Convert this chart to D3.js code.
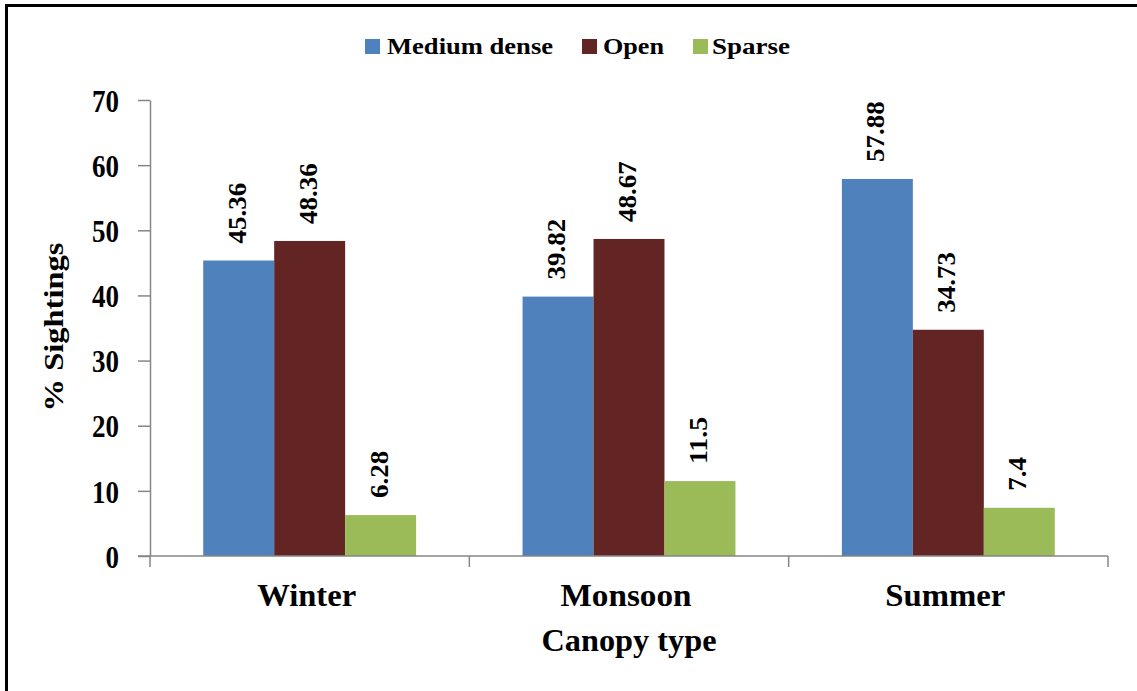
<!DOCTYPE html>
<html><head><meta charset="utf-8">
<script src="https://cdn.jsdelivr.net/npm/d3@7"></script>
<style>
html,body{margin:0;padding:0;background:#fff;}
svg{display:block;}
text{font-family:"Liberation Serif","Times New Roman",serif;font-weight:bold;fill:#000;}
</style></head>
<body>
<svg id="chart" width="1137" height="691"></svg>
<script>
const categories = ["Winter", "Monsoon", "Summer"];
const seriesNames = ["Medium dense", "Open", "Sparse"];
const mediumDense = [45.36, 39.82, 57.88];
const openCanopy = [48.36, 48.67, 34.73];
const sparse = [6.28, 11.5, 7.4];
const valueLabels = [["45.36", "39.82", "57.88"], ["48.36", "48.67", "34.73"], ["6.28", "11.5", "7.4"]];
const yTicks = [0, 10, 20, 30, 40, 50, 60, 70];
const colors = ["#4F81BD", "#632523", "#9BBB59"];

const series = [mediumDense, openCanopy, sparse];
const svg = d3.select("#chart");

// outer frame
svg.append("rect").attr("x", 6.5).attr("y", 5.5).attr("width", 1300).attr("height", 900)
  .attr("fill", "none").attr("stroke", "#000").attr("stroke-width", 3);

const x0 = d3.scaleBand().domain(categories).range([150, 1108]).paddingInner(0).paddingOuter(0);
const x1 = d3.scaleBand().domain(seriesNames).range([0, x0.bandwidth()]).paddingOuter(0.75).paddingInner(0);
const y = d3.scaleLinear().domain([0, 70]).range([556, 100]);

// bars
series.forEach((vals, si) => {
  svg.append("g").selectAll("rect").data(vals).enter().append("rect")
    .attr("x", (d, i) => x0(categories[i]) + x1(seriesNames[si]))
    .attr("width", x1.bandwidth())
    .attr("y", d => y(d))
    .attr("height", d => y(0) - y(d))
    .attr("fill", colors[si]);
});

// value labels
series.forEach((vals, si) => {
  svg.append("g").selectAll("text").data(vals).enter().append("text")
    .attr("transform", (d, i) => {
      const cx = x0(categories[i]) + x1(seriesNames[si]) + x1.bandwidth() / 2 + 7;
      return `translate(${cx},${y(d) - 17}) rotate(-90)`;
    })
    .attr("font-size", 25)
    .attr("textLength", (d, i) => {
      const s = valueLabels[si][i];
      let w = 0; for (const c of s) w += (c === "." ? 0.25 : 0.5);
      return w * 27;
    })
    .attr("lengthAdjust", "spacingAndGlyphs")
    .text((d, i) => valueLabels[si][i]);
});

// y axis
const yAxis = svg.append("g").attr("transform", "translate(150,0)")
  .call(d3.axisLeft(y).tickValues(yTicks).tickSize(12).tickSizeOuter(0).tickPadding(19));
yAxis.select(".domain").attr("stroke", "#868686").attr("stroke-width", 1.5);
yAxis.selectAll(".tick line").attr("stroke", "#868686").attr("stroke-width", 1.5);
yAxis.selectAll(".tick text")
  .attr("font-family", "Liberation Serif, serif").attr("font-weight", "bold")
  .attr("font-size", 31).attr("dy", "0.36em")
  .attr("textLength", d => String(d).length * 13.5).attr("lengthAdjust", "spacingAndGlyphs");

// x axis
const xAxisG = svg.append("g").attr("transform", "translate(0,556)");
xAxisG.append("line").attr("x1", 138).attr("x2", 1108).attr("y1", 0).attr("y2", 0)
  .attr("stroke", "#868686").attr("stroke-width", 1.5);
const xTickPos = categories.map(c => x0(c)).concat([x0(categories[categories.length - 1]) + x0.bandwidth()]);
xAxisG.selectAll("line.xt").data(xTickPos).enter().append("line").attr("class", "xt")
  .attr("x1", d => d).attr("x2", d => d).attr("y1", 0).attr("y2", 11)
  .attr("stroke", "#868686").attr("stroke-width", 1.5);
const catWidths = { "Winter": 99, "Monsoon": 131, "Summer": 120 };
svg.append("g").selectAll("text").data(categories).enter().append("text")
  .attr("x", d => x0(d) + x0.bandwidth() / 2 - 3)
  .attr("y", 606)
  .attr("text-anchor", "middle")
  .attr("font-size", 31)
  .attr("textLength", d => catWidths[d]).attr("lengthAdjust", "spacingAndGlyphs")
  .text(d => d);

// axis titles
svg.append("text").attr("x", 629).attr("y", 651).attr("text-anchor", "middle")
  .attr("font-size", 32).attr("textLength", 175).attr("lengthAdjust", "spacingAndGlyphs")
  .text("Canopy type");
svg.append("text").attr("transform", "translate(63,327) rotate(-90)").attr("text-anchor", "middle")
  .attr("font-size", 28).attr("textLength", 169).attr("lengthAdjust", "spacingAndGlyphs")
  .text("% Sightings");

// legend
const legendItems = [
  { name: seriesNames[0], sx: 365, tx: 387, tw: 166 },
  { name: seriesNames[1], sx: 582, tx: 603, tw: 61 },
  { name: seriesNames[2], sx: 693, tx: 712, tw: 78 }
];
const lg = svg.append("g");
legendItems.forEach((it, i) => {
  lg.append("rect").attr("x", it.sx).attr("y", 39).attr("width", 15).attr("height", 15).attr("fill", colors[i]);
  lg.append("text").attr("x", it.tx).attr("y", 54).attr("font-size", 24)
    .attr("textLength", it.tw).attr("lengthAdjust", "spacingAndGlyphs").text(it.name);
});
</script>
</body></html>
